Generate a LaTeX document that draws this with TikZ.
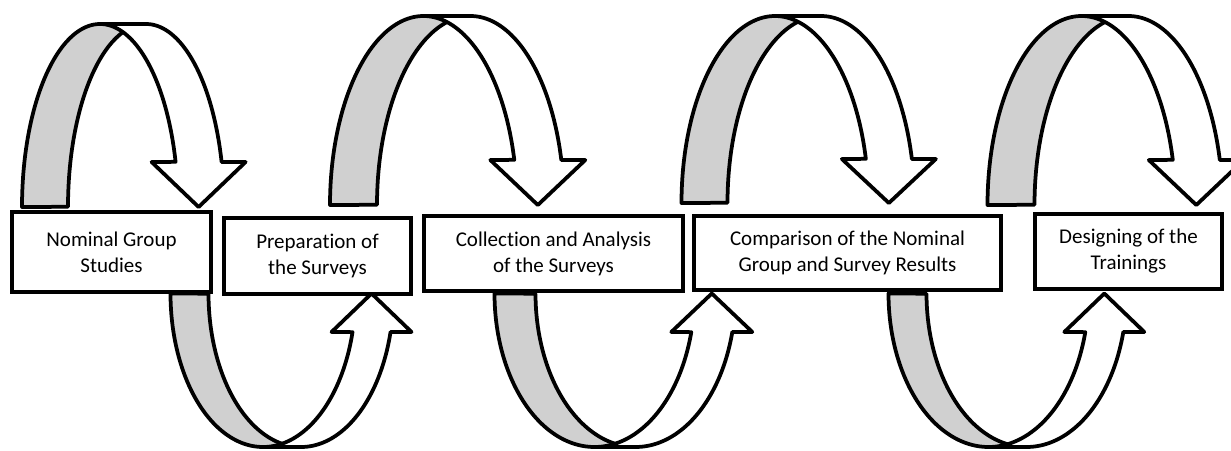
\documentclass[tikz,border=0pt]{standalone}
\usepackage{fontspec}
\setmainfont{Carlito}[Ligatures=NoCommon]
\definecolor{bandgray}{RGB}{208,208,208}
\tikzset{
  stage/.style={draw=black, line width=3.75pt, fill=white, align=center,
    inner sep=0pt, font=\fontsize{21}{26}\selectfont},
  backband/.style={draw=black, line width=3.75pt, fill=bandgray, line join=round},
  frontband/.style={draw=black, line width=3.75pt, fill=white, line join=round},
}
% Ribbon arrow made of two equal half-ellipses shifted by the band width.
% #1 centre x of the first ellipse, #2 horizontal radius, #3 band width,
% #4 base line y, #5 vertical radius, #6 direction (-1 over, +1 under),
% #7 head length, #8 wing overhang
\newcommand{\ribbonarrow}[8]{%
  \pgfmathsetmacro{\rbTw}{asin(#7/#5)}%
  \pgfmathsetmacro{\rbXi}{#1+#2*cos(\rbTw)}%
  \pgfmathsetmacro{\rbXo}{\rbXi+#3}%
  \pgfmathsetmacro{\rbXt}{\rbXi+#3/2}%
  \pgfmathsetmacro{\rbWy}{#4+#6*#7}%
  \filldraw[backband]
    plot[domain=0:1, samples=60] ({#1+#2*cos(180-90*\x)}, {#4+#6*#5*sin(180-90*\x)})
    -- plot[domain=0:1, samples=60] ({#1+#3+#2*cos(90+90*\x)}, {#4+#6*#5*sin(90+90*\x)})
    -- cycle;
  \filldraw[frontband]
    plot[domain=0:1, samples=60] ({#1+#2*cos(90-(90-\rbTw)*\x)}, {#4+#6*#5*sin(90-(90-\rbTw)*\x)})
    -- (\rbXi-#8, \rbWy) -- (\rbXt, #4) -- (\rbXo+#8, \rbWy)
    -- plot[domain=0:1, samples=60] ({#1+#3+#2*cos(\rbTw+(90-\rbTw)*\x)}, {#4+#6*#5*sin(\rbTw+(90-\rbTw)*\x)})
    -- cycle;
}
\begin{document}
\begin{tikzpicture}[x=1pt, y=-1pt]
  \useasboundingbox (0,0) rectangle (1231,450);

  % arrows over the boxes
  \ribbonarrow{100}{78}{46}{207}{183}{-1}{45}{24}
  \ribbonarrow{423.5}{93.5}{47}{205}{189}{-1}{45}{24}
  \ribbonarrow{775}{93.5}{46}{203}{187}{-1}{44}{24}
  \ribbonarrow{1081.5}{94}{47}{205}{189}{-1}{45}{24}

  % arrows under the boxes
  \ribbonarrow{263}{92.5}{38}{293.5}{153.5}{1}{38.5}{21}
  \ribbonarrow{594.5}{100}{41}{293.5}{153.5}{1}{38.5}{20}
  \ribbonarrow{988.5}{100}{38}{293.5}{153.5}{1}{38.5}{21}

  % process steps
  \node[stage, minimum width=199, minimum height=80] (s1) at (111.5,252)
    {Nominal Group\\Studies};
  \node[stage, minimum width=187, minimum height=76] (s2) at (317.5,256)
    {Preparation of\\the Surveys};
  \node[stage, minimum width=259, minimum height=75] (s3) at (553.5,253.5)
    {Collection and Analysis\\of the Surveys};
  \node[stage, minimum width=307, minimum height=74] (s4) at (847.5,253)
    {Comparison of the Nominal\\Group and Survey Results};
  \node[stage, minimum width=187, minimum height=75] (s5) at (1128.5,251.5)
    {Designing of the\\Trainings};
\end{tikzpicture}
\end{document}
